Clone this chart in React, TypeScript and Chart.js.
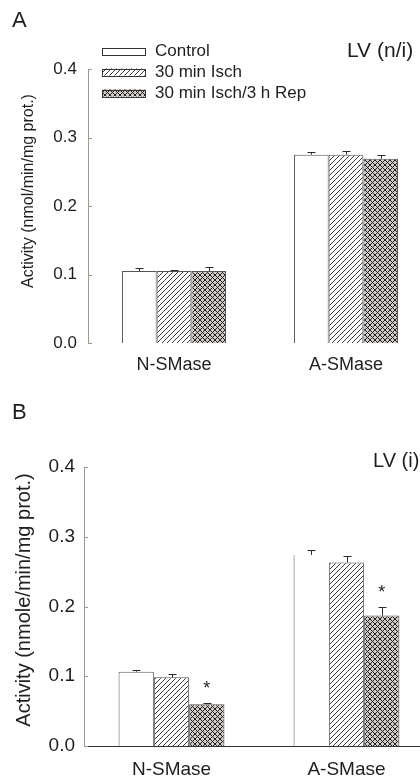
import React, { useEffect, useRef } from "react";
import { Chart, registerables } from "chart.js";
Chart.register(...registerables);

// ---------- data ----------
const categories = ["N-SMase", "A-SMase"];
const seriesLabels = ["Control", "30 min Isch", "30 min Isch/3 h Rep"];
const yTicks = [0, 0.1, 0.2, 0.3, 0.4];

// Panel A: LV (n/i)
const aControl = [0.105, 0.275];
const aIsch = [0.105, 0.275];
const aRep = [0.105, 0.269];
const aControlErr = [0.004, 0.004];
const aIschErr = [0.001, 0.005];
const aRepErr = [0.006, 0.006];

// Panel B: LV (i)
const bControl = [0.1065, 0.274];
const bIsch = [0.0985, 0.263];
const bRep = [0.06, 0.187];
const bControlErr = [0.002, 0.007];
const bIschErr = [0.005, 0.009];
const bRepErr = [0.002, 0.013];
const bRepSig = [true, true];

// ---------- styles ----------
const FONT = "'Liberation Sans', Arial, Helvetica, sans-serif";
const TEXT = "#1e1e1e";
const AXIS = "#9d968f";

function makePattern(kind: string): any {
  if (kind === "none") return "#ffffff";
  const s = 5;
  const c = document.createElement("canvas");
  c.width = s;
  c.height = s;
  const g = c.getContext("2d")!;
  g.fillStyle = kind === "diag" ? "#ffffff" : "#cfcac5";
  g.fillRect(0, 0, s, s);
  g.strokeStyle = kind === "diag" ? "#3a3a3a" : "#222222";
  g.lineWidth = 1;
  g.beginPath();
  g.moveTo(-1, s + 1);
  g.lineTo(s + 1, -1);
  g.moveTo(-1, 1);
  g.lineTo(1, -1);
  g.moveTo(s - 1, s + 1);
  g.lineTo(s + 1, s - 1);
  g.stroke();
  if (kind === "cross") {
    g.beginPath();
    g.moveTo(-1, -1);
    g.lineTo(s + 1, s + 1);
    g.moveTo(s - 1, -1);
    g.lineTo(s + 1, 1);
    g.moveTo(-1, s - 1);
    g.lineTo(1, s + 1);
    g.stroke();
  }
  return g.createPattern(c, "repeat");
}

const specA = {
  letter: "A",
  tag: "LV (n/i)",
  tagSize: 21,
  yTitle: "Activity (nmol/min/mg prot.)",
  series: [aControl, aIsch, aRep],
  errors: [aControlErr, aIschErr, aRepErr],
  sig: [null, null, null] as any[],
  padTop: 69,
  padRight: 8,
  axisW: 88,
  xAxisH: 46,
  tickSize: 17,
  tickPad: 11,
  xSize: 18,
  xPad: 11,
  titleSize: 16,
  titleX: 29,
  titleY: 191,
  letterX: 12,
  letterY: 21,
  tagX: 347,
  tagY: 51,
  xBorder: false,
  legend: true,
  openBar: null as any,
};

const specB = {
  letter: "B",
  tag: "LV (i)",
  tagSize: 20,
  yTitle: "Activity (nmole/min/mg prot.)",
  series: [bControl, bIsch, bRep],
  errors: [bControlErr, bIschErr, bRepErr],
  sig: [null, null, bRepSig] as any[],
  padTop: 78,
  padRight: 6,
  axisW: 84,
  xAxisH: 32,
  tickSize: 19,
  tickPad: 9,
  xSize: 19,
  xPad: 12,
  titleSize: 20,
  titleX: 24,
  titleY: 211,
  letterX: 12,
  letterY: 24,
  tagX: 373,
  tagY: 72,
  xBorder: true,
  legend: false,
  openBar: [0, 1] as any,
};

function buildChart(canvas: HTMLCanvasElement, s: any) {
  const fills = [makePattern("none"), makePattern("diag"), makePattern("cross")];

  const extras = {
    id: "extras",
    afterDatasetsDraw(chart: any) {
      const { ctx } = chart;
      const y = chart.scales.y;
      ctx.save();
      ctx.strokeStyle = "#2a2a2a";
      ctx.lineWidth = 1;
      chart.data.datasets.forEach((ds: any, i: number) => {
        const meta = chart.getDatasetMeta(i);
        meta.data.forEach((el: any, j: number) => {
          const v = ds.data[j];
          const e = s.errors[i][j];
          const x = Math.round(el.x) + 0.5;
          const y0 = y.getPixelForValue(v);
          const y1 = Math.round(y.getPixelForValue(v + e)) + 0.5;
          ctx.beginPath();
          ctx.moveTo(x, y0);
          ctx.lineTo(x, y1);
          ctx.moveTo(x - 4, y1);
          ctx.lineTo(x + 4, y1);
          ctx.stroke();
          if (s.sig[i] && s.sig[i][j]) {
            ctx.fillStyle = TEXT;
            ctx.font = `18px ${FONT}`;
            ctx.textAlign = "center";
            ctx.textBaseline = "alphabetic";
            ctx.fillText("*", el.x, y1 - 10);
          }
        });
      });
      ctx.restore();
    },
    afterDraw(chart: any) {
      const { ctx, chartArea } = chart;
      const y = chart.scales.y;
      ctx.save();
      // inward tick marks
      ctx.strokeStyle = AXIS;
      ctx.lineWidth = 1;
      y.ticks.forEach((t: any) => {
        const py = Math.round(y.getPixelForValue(t.value)) + 0.5;
        ctx.beginPath();
        ctx.moveTo(chartArea.left, py);
        ctx.lineTo(chartArea.left + 4, py);
        ctx.stroke();
      });
      ctx.fillStyle = TEXT;
      // y title
      ctx.save();
      ctx.font = `${s.titleSize}px ${FONT}`;
      ctx.translate(s.titleX, s.titleY);
      ctx.rotate(-Math.PI / 2);
      ctx.textAlign = "center";
      ctx.textBaseline = "middle";
      ctx.fillText(s.yTitle, 0, 0);
      ctx.restore();
      // panel letter
      ctx.font = `22px ${FONT}`;
      ctx.textAlign = "left";
      ctx.textBaseline = "middle";
      ctx.fillText(s.letter, s.letterX, s.letterY);
      // tag
      ctx.font = `${s.tagSize}px ${FONT}`;
      ctx.fillText(s.tag, s.tagX, s.tagY);
      // legend
      if (s.legend) {
        seriesLabels.forEach((lab, i) => {
          const cy = 51 + i * 21;
          ctx.fillStyle = fills[i];
          ctx.fillRect(102, cy - 3.5, 43, 7);
          ctx.strokeStyle = "#333";
          ctx.strokeRect(102.5, Math.round(cy - 3.5) + 0.5, 43, 7);
          ctx.fillStyle = TEXT;
          ctx.font = `17px ${FONT}`;
          ctx.textAlign = "left";
          ctx.textBaseline = "middle";
          ctx.fillText(lab, 155, cy);
        });
      }
      ctx.restore();
    },
  };

  return new Chart(canvas, {
    type: "bar",
    data: {
      labels: categories,
      datasets: s.series.map((d: number[], i: number) => ({
        label: seriesLabels[i],
        data: d,
        backgroundColor: fills[i],
        borderColor: "#555",
        borderWidth: (c: any) =>
          s.openBar && c.datasetIndex === s.openBar[0] && c.dataIndex === s.openBar[1]
            ? { left: 1, top: 0, right: 0, bottom: 0 }
            : { left: 1, top: 1, right: 1, bottom: 0 },
        borderSkipped: "start",
        categoryPercentage: 0.605,
        barPercentage: 1,
      })),
    },
    options: {
      responsive: false,
      animation: false,
      events: [],
      layout: { padding: { top: s.padTop, right: s.padRight, left: 0, bottom: 0 } },
      plugins: { legend: { display: false }, title: { display: false }, tooltip: { enabled: false } },
      scales: {
        x: {
          grid: { display: false, drawTicks: false },
          border: { display: s.xBorder, color: "#333", width: 1 },
          ticks: { font: { family: FONT, size: s.xSize }, color: TEXT, padding: s.xPad },
          afterFit: (sc: any) => {
            sc.height = s.xAxisH;
          },
        },
        y: {
          min: 0,
          max: 0.4,
          grid: { display: false, drawTicks: false },
          border: { display: true, color: AXIS, width: 1 },
          afterBuildTicks: (sc: any) => {
            sc.ticks = yTicks.map((v) => ({ value: v }));
          },
          ticks: {
            font: { family: FONT, size: s.tickSize },
            color: TEXT,
            padding: s.tickPad,
            callback: (v: any) => Number(v).toFixed(1),
          },
          afterFit: (sc: any) => {
            sc.width = s.axisW;
          },
        },
      },
    },
    plugins: [extras],
  } as any);
}

export default function App() {
  const refA = useRef<HTMLCanvasElement>(null);
  const refB = useRef<HTMLCanvasElement>(null);
  useEffect(() => {
    const charts = [buildChart(refA.current!, specA), buildChart(refB.current!, specB)];
    return () => charts.forEach((c) => c.destroy());
  }, []);
  return (
    <div
      style={{
        position: "fixed",
        left: 0,
        top: 0,
        width: 420,
        height: 778,
        overflow: "hidden",
        background: "#fff",
      }}
    >
      <canvas
        ref={refA}
        width={440}
        height={389}
        style={{ position: "absolute", left: 0, top: 0, width: 440, height: 389 }}
      />
      <canvas
        ref={refB}
        width={440}
        height={389}
        style={{ position: "absolute", left: 0, top: 389, width: 440, height: 389 }}
      />
    </div>
  );
}
